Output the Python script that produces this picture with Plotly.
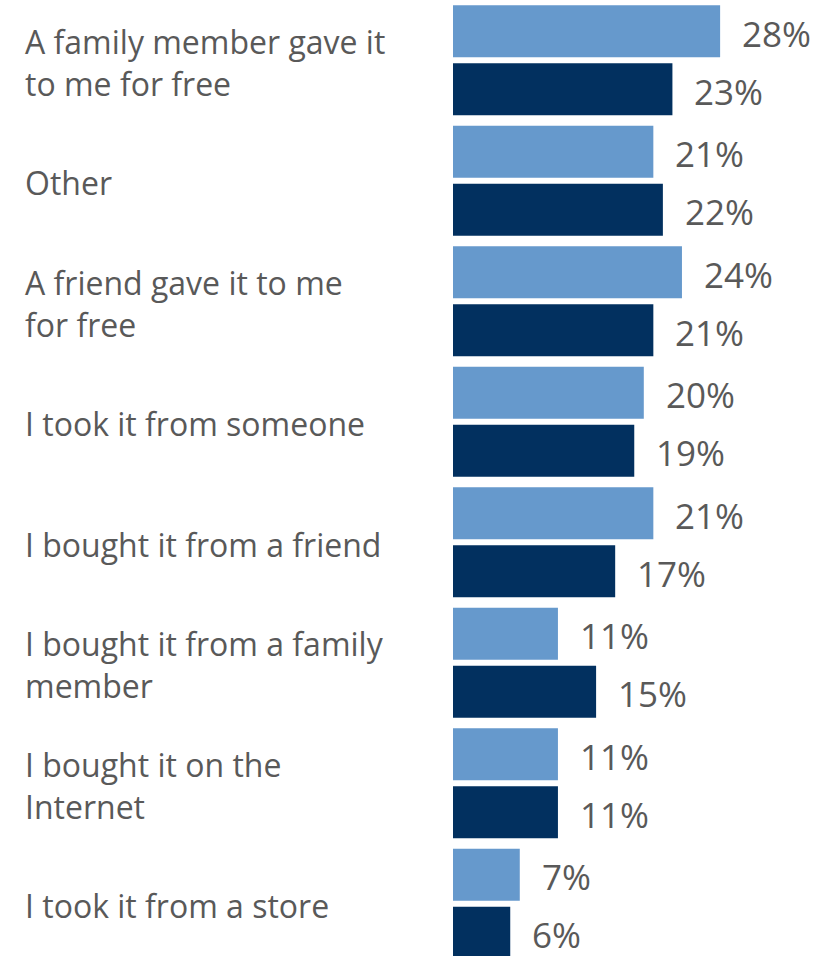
import plotly.graph_objects as go

categories = [
    "A family member gave it<br>to me for free",
    "Other",
    "A friend gave it to me<br>for free",
    "I took it from someone",
    "I bought it from a friend",
    "I bought it from a family<br>member",
    "I bought it on the<br>Internet",
    "I took it from a store",
]
series_a = [28, 21, 24, 20, 21, 11, 11, 7]
series_b = [23, 22, 21, 19, 17, 15, 11, 6]

color_a = "#6699CC"
color_b = "#02305F"
text_color = "#595959"
font_family = "Open Sans"

W, H = 818, 956
band_px = 120.5
bargap = 0.037
bargroupgap = 0.103
ypos = list(range(len(categories)))

fig = go.Figure()
fig.add_trace(go.Bar(y=ypos, x=series_a, orientation="h", marker=dict(color=color_a, line=dict(width=0)), hoverinfo="skip"))
fig.add_trace(go.Bar(y=ypos, x=series_b, orientation="h", marker=dict(color=color_b, line=dict(width=0)), hoverinfo="skip"))

slot = (1 - bargap) / 2
annotations = []
for i, cat in enumerate(categories):
    annotations.append(dict(
        x=23 / W, xref="paper", y=i, yref="y", text=cat, showarrow=False,
        xanchor="left", yanchor="middle", align="left", yshift=-2,
        font=dict(family=font_family, size=32, color=text_color),
    ))
    for val, off in ((series_a[i], -slot / 2), (series_b[i], slot / 2)):
        annotations.append(dict(
            x=val, xref="x", y=i + off, yref="y", text=f"{val}%", showarrow=False,
            xanchor="left", yanchor="middle", xshift=21, yshift=-2, borderpad=0,
            font=dict(family=font_family, size=35, color=text_color),
        ))

fig.update_layout(
    width=W, height=H,
    margin=dict(l=0, r=0, t=0, b=0),
    paper_bgcolor="white", plot_bgcolor="white",
    barmode="group", bargap=bargap, bargroupgap=bargroupgap,
    showlegend=False,
    xaxis=dict(domain=[453 / W, 1], range=[0, 38.26], visible=False, fixedrange=True),
    yaxis=dict(range=[-0.5 + H / band_px, -0.5], visible=False, fixedrange=True),
    annotations=annotations,
)
fig.write_html(
    "out.html",
    config={"displayModeBar": False},
    post_script="document.body.style.margin='0';document.body.style.overflow='hidden';",
)
